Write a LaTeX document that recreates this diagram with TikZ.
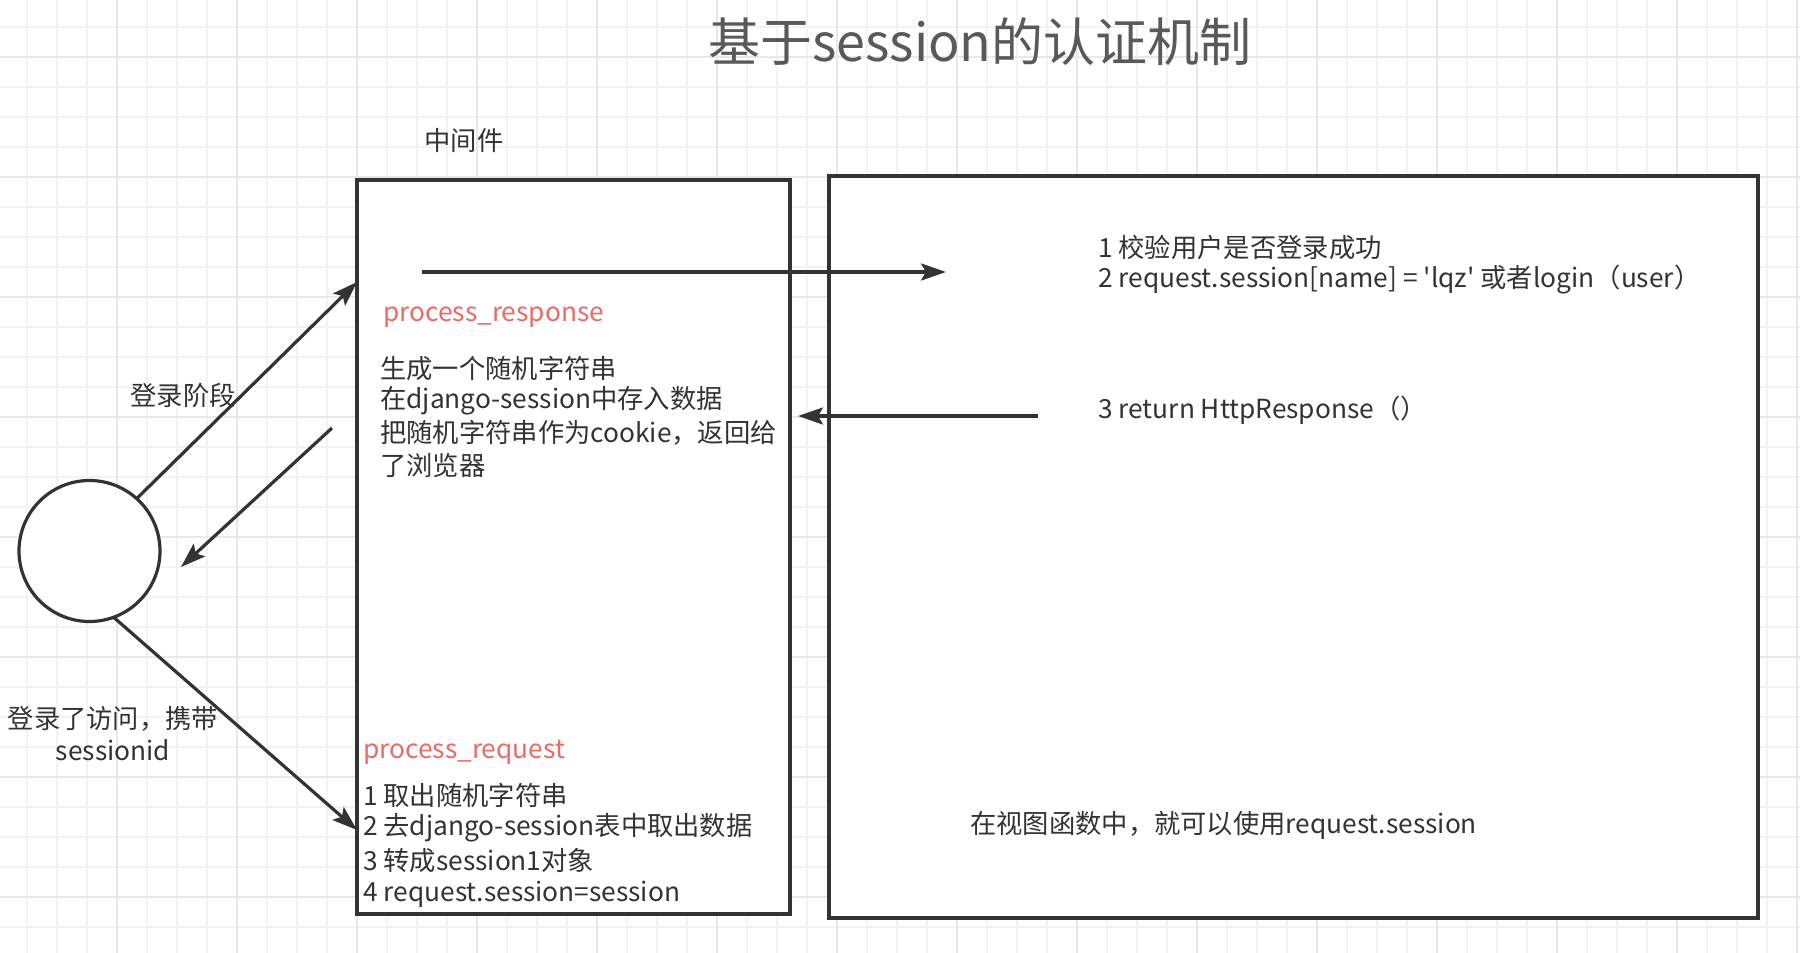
\documentclass[tikz,border=0pt]{standalone}
\usepackage{fontspec}
\setmainfont{Noto Sans CJK SC}
\usepackage{xcolor}
\usetikzlibrary{arrows.meta}
\definecolor{inkc}{HTML}{333333}
\definecolor{redc}{HTML}{EA6B66}
\definecolor{titc}{HTML}{595959}
\definecolor{gridc}{HTML}{F3F3F3}
\definecolor{gridmc}{HTML}{E8E8E8}
\tikzset{
  ar/.style={-{Stealth[length=25pt,width=17pt,inset=5pt]},line width=3.2pt,inkc},
  bx/.style={draw=inkc,line width=3.2pt,fill=white,inner sep=0pt,outer sep=0pt,anchor=north west},
  tx/.style={inner sep=0pt,anchor=west,text=inkc,font=\fontsize{26.3}{32}\selectfont},
  lb/.style={tx,anchor=center,align=center}
}

\begin{document}
\begin{tikzpicture}[x=1pt,y=-1pt]
\useasboundingbox (0,0) rectangle (1800,953);
\fill[white] (0,0) rectangle (1800,953);
% background grid
\foreach \k in {0,...,59} \draw[gridc,line width=2pt] (27+30*\k,0) -- (27+30*\k,953);
\foreach \k in {0,...,31} \draw[gridc,line width=2pt] (0,27+30*\k) -- (1800,27+30*\k);
\foreach \k in {0,...,14} \draw[gridmc,line width=2pt] (117+120*\k,0) -- (117+120*\k,953);
\foreach \k in {0,...,7} \draw[gridmc,line width=2pt] (0,57+120*\k) -- (1800,57+120*\k);

\node[font=\fontsize{52}{60}\selectfont,text=titc] (title) at (980,42) {基于session的认证机制};
\node[lb] (mwlbl) at (464,141) {中间件};
\node[bx,minimum width=433pt,minimum height=734pt] (mw) at (357,180) {};
\node[bx,minimum width=929pt,minimum height=742pt] (view) at (829,176) {};
\node[draw=inkc,line width=3.2pt,fill=white,circle,minimum size=141pt,inner sep=0pt,outer sep=0pt] (br) at (89.5,551) {};

% browser <-> middleware
\draw[ar] (br.48) -- ([yshift=-102pt]mw.north west);
\draw[ar] (br.-70) -- ([yshift=-650pt]mw.north west);
\coordinate (rs) at (332,428);
\coordinate (rt) at (181,567);
\draw[ar] (rs) -- (rt);
\node[lb] (login) at (183,395) {登录阶段};
\node[lb] (logged) at (113,734) {登录了访问，携带\\sessionid};

% middleware <-> view
\coordinate (pa) at (422,272);
\coordinate (pb) at (946,272);
\draw[ar] (pa) -- (pb);
\coordinate (qa) at (1038,416);
\coordinate (qb) at (798,416);
\draw[ar] (qa) -- (qb);

\node[tx,text=redc] (presp) at (383,317) {process\_response};
\foreach \t [count=\i] in {{生成一个随机字符串},{在django-session中存入数据},{把随机字符串作为cookie，返回给},{了浏览器}}
  \node[tx] (gen\i) at (380,336+32.3*\i) {\t};
\node[tx,text=redc] (preq) at (363,752) {process\_request};
\foreach \t [count=\i] in {{1 取出随机字符串},{2 去django-session表中取出数据},{3 转成session1对象},{4 request.session=session}}
  \node[tx] (get\i) at (363,762+33*\i) {\t};

\node[tx] (chk1) at (1098,248) {1 校验用户是否登录成功};
\node[tx] (chk2) at (1098,280) {2 request.session[name] = \textquotesingle lqz\textquotesingle\ 或者login（user）};
\node[tx] (ret) at (1098,410) {3 return HttpResponse（）};
\node[tx] (use) at (970,825) {在视图函数中，就可以使用request.session};
\end{tikzpicture}
\end{document}
